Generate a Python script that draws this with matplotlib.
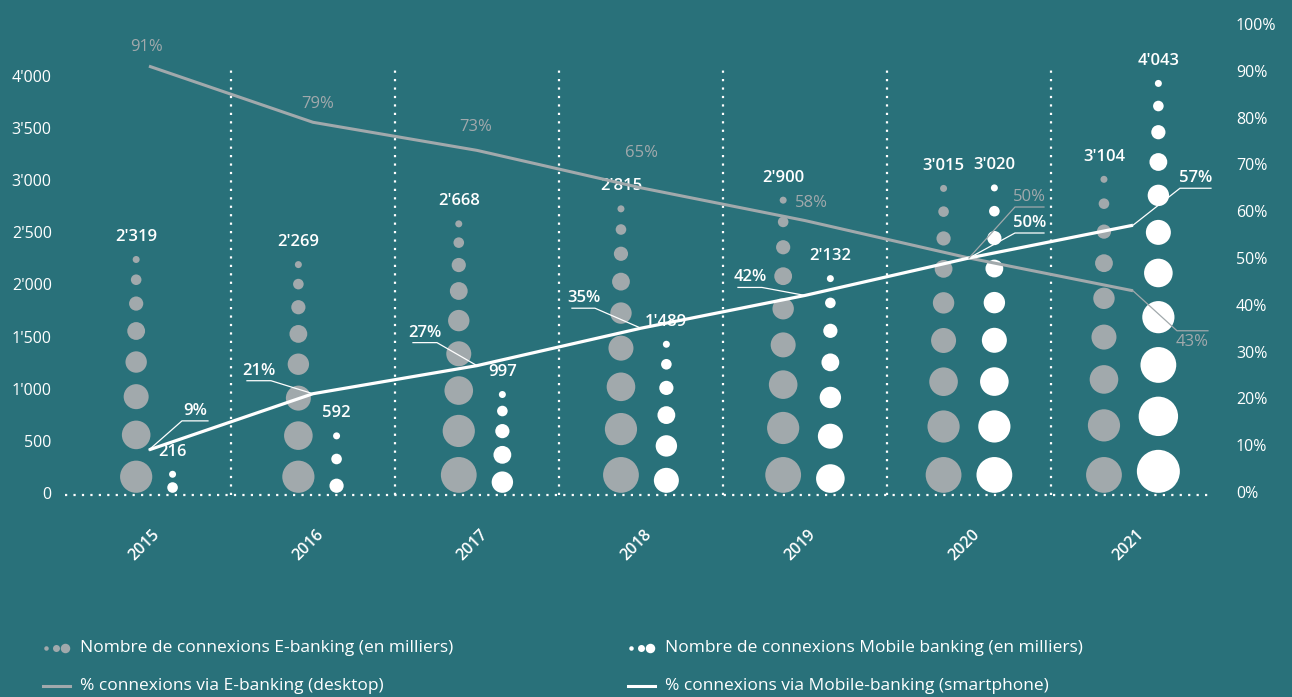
import numpy as np
import matplotlib.pyplot as plt
from matplotlib.lines import Line2D
from matplotlib.transforms import IdentityTransform

plt.rcParams['font.family'] = ['Open Sans', 'DejaVu Sans']

# données
annees = ['2015', '2016', '2017', '2018', '2019', '2020', '2021']
ebanking = [2319, 2269, 2668, 2815, 2900, 3015, 3104]
mobile = [216, 592, 997, 1489, 2132, 3020, 4043]
pct_ebanking = [91, 79, 73, 65, 58, 50, 43]
pct_mobile = [9, 21, 27, 35, 42, 50, 57]
bulles_ebanking = [8, 8, 9, 9, 9, 9, 9]
bulles_mobile = [2, 3, 5, 6, 7, 9, 11]

FOND = '#29717a'
GRIS = '#a1a9ac'
BLANC = '#ffffff'

W, H = 1292, 697
fig = plt.figure(figsize=(W / 100, H / 100), dpi=100, facecolor=FOND)
ax = fig.add_axes([65 / W, (H - 497) / H, 1148 / W, 475 / H])
ax.patch.set_visible(False)
ax.set_xlim(-0.512, 6.488)
ax.set_ylim(-40, 4518)
ax2 = ax.twinx()
ax2.set_ylim(-1.07, 100.43)
ax2.patch.set_visible(False)

for a in (ax, ax2):
    for s in a.spines.values():
        s.set_visible(False)
ax.set_xticks([])
ax.set_yticks(range(0, 4001, 500))
ax.set_yticklabels([f"{v:,}".replace(",", "'") for v in range(0, 4001, 500)])
ax.tick_params(axis='y', length=0, pad=9.5, labelcolor=BLANC, labelsize=11.5)
ax2.set_yticks(range(0, 101, 10))
ax2.set_yticklabels([f"{v}%" for v in range(0, 101, 10)])
ax2.tick_params(axis='y', length=0, pad=16.5, labelcolor=BLANC, labelsize=11.5)

pointille = dict(color=BLANC, lw=1.6, linestyle=(0, (1, 2.8)))
ax.axhline(-20, **pointille)
ax.vlines(np.arange(len(annees) - 1) + 0.5, -20, 4100, **pointille)

# pixels par unité de données
ppy = ax.bbox.height / 4558
ppx = ax.bbox.width / 7.0


def pile(valeur, n):
    # bulles empilées de la ligne de base jusqu'à la valeur, plus grosses en bas
    d = 7 + 3.6 * np.arange(n)
    hauteur = valeur * ppy * 0.98
    ecart = (hauteur - d.sum()) / max(n - 1, 1)
    centres = hauteur - (np.concatenate([[0], np.cumsum(d)[:-1]]) + d / 2 + np.arange(n) * ecart)
    return centres / ppy, d, hauteur / ppy


def etiquette(v):
    return f"{v:,}".replace(",", "'")


for i in range(len(annees)):
    yg, dg, hg = pile(ebanking[i], bulles_ebanking[i])
    ym, dm, hm = pile(mobile[i], bulles_mobile[i])
    rg, rm = dg[-1] / 2, dm[-1] / 2
    largeur = 2 * rg + 15 + 2 * rm
    xg = i + (-largeur / 2 + rg) / ppx
    xm = xg + (rg + 15 + rm) / ppx
    ax.scatter(np.full(len(yg), xg), yg, s=(dg * 0.72) ** 2, c=GRIS, linewidths=0, zorder=2)
    ax.scatter(np.full(len(ym), xm), ym, s=(dm * 0.72) ** 2, c=BLANC, linewidths=0, zorder=2)
    ax.annotate(etiquette(ebanking[i]), (xg, hg), xytext=(0, 19), textcoords='offset pixels',
                ha='center', va='center', color=BLANC, fontsize=12, fontweight='semibold')
    ax.annotate(etiquette(mobile[i]), (xm, hm), xytext=(0, 19), textcoords='offset pixels',
                ha='center', va='center', color=BLANC, fontsize=12, fontweight='semibold')
    ax.annotate(annees[i], (i, 0), xytext=(-5, -52), textcoords='offset pixels', rotation=45,
                ha='center', va='center', color=BLANC, fontsize=11.5, fontweight='semibold',
                annotation_clip=False)

x = np.arange(len(annees))
ax2.plot(x, pct_ebanking, color=GRIS, lw=2.2, solid_capstyle='butt')
ax2.plot(x, pct_mobile, color=BLANC, lw=2.3, solid_capstyle='butt')

ident = IdentityTransform()

# étiquettes simples de la courbe E-banking
decal_gris = {0: (-2, 19), 1: (5, 18), 2: (-1, 23), 3: (1, 35), 4: (6, 18)}
for i, (dx, dy) in decal_gris.items():
    ax2.annotate(f"{pct_ebanking[i]}%", (i, pct_ebanking[i]), xytext=(dx, dy),
                 textcoords='offset pixels', ha='center', va='center', color=GRIS, fontsize=12)


def renvoi(i, valeur, dx, dy, course, texte, couleur, poids, dessous=False):
    x0, y0 = ax2.transData.transform((i, valeur))
    xs = [x0, x0 + dx, x0 + dx + course]
    ys = [y0, y0 + dy, y0 + dy]
    fig.add_artist(Line2D(xs, ys, transform=ident, color=couleur, lw=0.9))
    ty = y0 + dy + (-11 if dessous else 10)
    fig.text(x0 + dx + course / 2, ty, texte, transform=ident, ha='center', va='center',
             color=couleur, fontsize=12, fontweight=poids)


renvois_mobile = {0: (33, 29, 26), 1: (-42, 13, -24), 2: (-40, 23, -24), 3: (-46, 20, -23),
                  4: (-43, 8, -24), 5: (46, 25, 29), 6: (47, 37, 31)}
for i, (dx, dy, c) in renvois_mobile.items():
    renvoi(i, pct_mobile[i], dx, dy, c, f"{pct_mobile[i]}%", BLANC, 'semibold')
renvoi(5, pct_ebanking[5], 46, 51, 29, f"{pct_ebanking[5]}%", GRIS, 'normal')
renvoi(6, pct_ebanking[6], 44, -40, 31, f"{pct_ebanking[6]}%", GRIS, 'normal', dessous=True)

# légende
def legende_points(x0, y0, couleur, texte):
    for k, d in enumerate([4.5, 7, 9.5]):
        fig.add_artist(Line2D([x0 + k * 9.5], [y0], transform=ident, marker='o', ms=d * 0.72,
                              mew=0, color=couleur, linestyle='none'))
    fig.text(x0 + 34, y0, texte, transform=ident, va='center', ha='left', color=BLANC, fontsize=12.5)


def legende_ligne(x0, y0, couleur, texte):
    fig.add_artist(Line2D([x0, x0 + 27], [y0, y0], transform=ident, color=couleur, lw=2.2))
    fig.text(x0 + 37, y0, texte, transform=ident, va='center', ha='left', color=BLANC, fontsize=12.5)


legende_points(46, H - 648, GRIS, "Nombre de connexions E-banking (en milliers)")
legende_points(631, H - 648, BLANC, "Nombre de connexions Mobile banking (en milliers)")
legende_ligne(43, H - 686, GRIS, "% connexions via E-banking (desktop)")
legende_ligne(628, H - 686, BLANC, "% connexions via Mobile-banking (smartphone)")

fig.savefig('out.png', dpi=100, facecolor=FOND)
